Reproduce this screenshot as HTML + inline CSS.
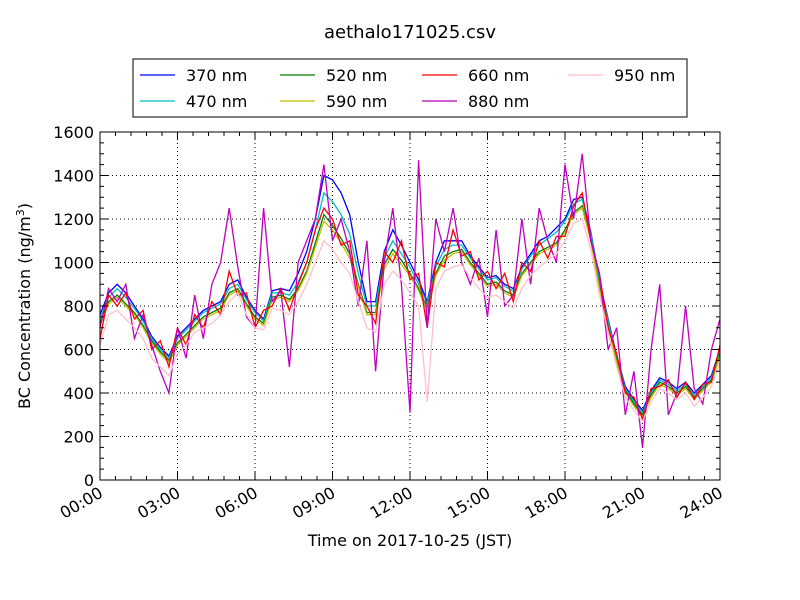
<!DOCTYPE html>
<html><head><meta charset="utf-8"><style>
body{margin:0;background:#fff;}
svg{display:block;font-family:"DejaVu Sans","Liberation Sans",sans-serif;}
</style></head><body>
<svg id="c" width="800" height="600">
<text x="410" y="38" font-size="18" text-anchor="middle">aethalo171025.csv</text>
</svg>
<script>
const hours=[];for(let i=0;i<=72;i++)hours.push(i/3);
const xTickLabels=["00:00","03:00","06:00","09:00","12:00","15:00","18:00","21:00","24:00"];
const yTickLabels=[0,200,400,600,800,1000,1200,1400,1600];
const s370=[760,860,900,860,800,740,660,610,570,660,700,740,780,800,820,900,920,840,780,740,870,880,870,950,1050,1200,1400,1380,1320,1220,1000,820,820,1050,1150,1080,1000,920,820,1000,1100,1100,1100,1030,980,930,940,900,880,980,1040,1100,1120,1160,1200,1290,1300,1140,920,740,570,430,370,320,410,470,450,420,450,400,440,480,600];
const s470=[740,840,880,840,790,730,650,600,560,650,690,730,770,790,810,880,900,830,770,730,860,860,850,910,1000,1150,1320,1280,1220,1130,950,800,800,1020,1100,1040,980,900,810,980,1060,1080,1080,1020,970,920,930,890,870,970,1030,1080,1110,1140,1190,1270,1290,1130,910,730,560,420,360,310,400,460,440,410,440,390,430,470,590];
const s520=[720,820,850,810,770,710,640,590,550,630,670,710,750,770,790,860,880,810,750,720,840,850,830,880,960,1090,1220,1170,1110,1040,900,770,770,990,1060,1010,950,880,790,950,1030,1050,1060,1000,950,900,910,870,850,950,1000,1050,1070,1090,1150,1230,1260,1110,890,710,550,410,350,300,390,450,430,400,430,380,420,460,580];
const s590=[710,810,840,800,760,700,630,580,540,620,660,700,740,760,780,850,870,800,740,710,830,840,820,870,950,1070,1190,1150,1090,1020,890,760,760,970,1040,990,940,870,780,940,1010,1040,1050,990,940,890,900,860,840,940,990,1040,1060,1080,1140,1220,1250,1100,880,700,540,400,340,290,380,440,420,390,420,370,410,450,570];
const s660=[650,850,800,860,740,780,600,640,520,700,620,760,700,820,760,960,850,860,700,780,800,880,780,900,1000,1150,1250,1200,1080,1100,850,800,720,1050,1000,1100,920,950,700,1000,980,1150,1030,1050,920,960,880,950,820,1000,960,1100,1020,1120,1120,1260,1320,1100,950,700,580,400,380,280,420,430,460,380,450,370,440,450,620];
const s880=[700,880,820,900,650,760,620,500,400,700,560,850,650,900,1000,1250,980,750,700,1250,820,870,520,1000,1100,1200,1450,1100,1200,1050,800,1100,500,1000,1250,900,310,1470,700,1200,1050,1250,1000,900,1020,750,1150,800,850,1200,900,1250,1100,1000,1450,1200,1500,1100,950,600,700,300,500,150,600,900,300,400,800,420,350,600,740];
const s950=[620,760,780,740,700,650,560,520,480,580,620,680,700,720,760,820,860,760,700,690,790,780,760,820,900,1000,1100,1060,1000,950,820,700,680,900,960,920,860,800,360,880,960,980,990,930,880,840,850,820,790,880,940,980,1010,1040,1100,1180,1200,1060,850,680,520,380,320,270,360,420,400,370,400,340,380,430,540];
const series=[["370 nm","#0000ff",s370],["470 nm","#00bfbf",s470],["520 nm","#008000",s520],["590 nm","#bfbf00",s590],["660 nm","#ff0000",s660],["880 nm","#bf00bf",s880],["950 nm","#ffc0cb",s950]];
const X0=100,X1=720,Y0=480,Y1=132;
const xs=h=>X0+(X1-X0)*h/24, ys=v=>Y0-(Y0-Y1)*v/1600;
const svg=document.getElementById('c'),NS="http://www.w3.org/2000/svg";
function mk(t,a,p){const e=document.createElementNS(NS,t);for(const k in a)e.setAttribute(k,a[k]);(p||svg).appendChild(e);return e;}
yTickLabels.forEach(v=>{if(v>0&&v<1600){const g=mk('line',{x1:X0,x2:X1,y1:ys(v),y2:ys(v),stroke:'#000','stroke-dasharray':'1,3','stroke-width':1});}});
xTickLabels.forEach((l,i)=>{const h=i*3;if(h>0&&h<24){const g=mk('line',{x1:xs(h),x2:xs(h),y1:Y0,y2:Y1,stroke:'#000','stroke-dasharray':'1,3','stroke-width':1});}});
const clip=mk('clipPath',{id:'cp'});mk('rect',{x:X0,y:Y1,width:X1-X0,height:Y0-Y1},clip);
series.forEach(s=>{const d=s[2].map((v,i)=>(i?'L':'M')+xs(hours[i]).toFixed(1)+','+ys(v).toFixed(1)).join('');
const p=mk('path',{d:d,fill:'none',stroke:s[1],'stroke-width':1.3,'clip-path':'url(#cp)'});

});
const fr=mk('rect',{x:X0,y:Y1,width:X1-X0,height:Y0-Y1,fill:'none',stroke:'#000','stroke-width':1});

for(let h=0;h<=24.01;h+=0.6){const x=xs(h);const major=Math.abs(h/3-Math.round(h/3))<0.01;const L=major?8:4;mk('line',{x1:x,x2:x,y1:Y0,y2:Y0-L,stroke:'#000'});mk('line',{x1:x,x2:x,y1:Y1,y2:Y1+L,stroke:'#000'});}
for(let v=0;v<=1600;v+=50){const y=ys(v);const L=v%200===0?8:4;mk('line',{x1:X0,x2:X0+L,y1:y,y2:y,stroke:'#000'});mk('line',{x1:X1,x2:X1-L,y1:y,y2:y,stroke:'#000'});}
yTickLabels.forEach(v=>{const t=mk('text',{x:94,y:ys(v)+6,'font-size':16,'text-anchor':'end'});t.textContent=v;});
xTickLabels.forEach((l,i)=>{const x=xs(i*3);const t=mk('text',{x:x+4,y:496,'font-size':16,'text-anchor':'end',transform:`rotate(-30 ${x+4} 496)`});t.textContent=l;});
const xt=mk('text',{x:410,y:546,'font-size':16,'text-anchor':'middle'});xt.textContent='Time on 2017-10-25 (JST)';

const yt=mk('text',{x:0,y:0,'font-size':16,'text-anchor':'middle',transform:'translate(30 306) rotate(-90)'});
yt.innerHTML='BC Concentration (ng/m<tspan dy="-6" font-size="11">3</tspan><tspan dy="6">)</tspan>';

const lg=mk('rect',{x:133,y:59,width:554,height:58,fill:'#fff',stroke:'#000'});

const cols=[140,280,422,568];
series.forEach((s,i)=>{const c=cols[Math.floor(i/2)],r=i%2,y=75+r*26;
const g=mk('g',{});
mk('line',{x1:c,x2:c+35,y1:y,y2:y,stroke:s[1],'stroke-width':1.2},g);
const t=mk('text',{x:c+46,y:y+6,'font-size':16},g);t.textContent=s[0];});
</script>
</body></html>
